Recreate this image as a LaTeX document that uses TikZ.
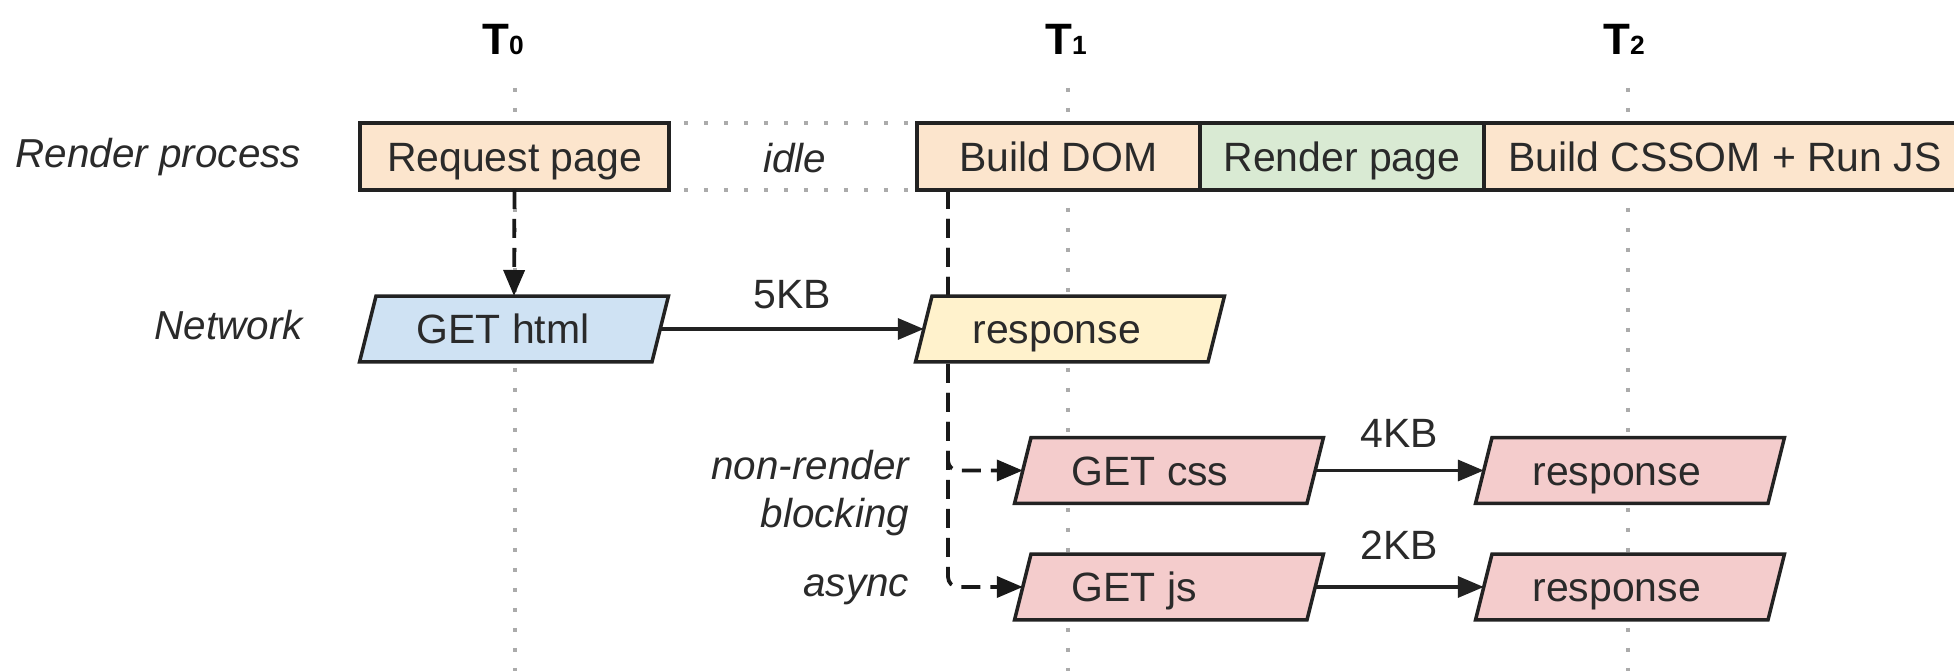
\documentclass[tikz,border=0pt]{standalone}
\usepackage{fontspec}
\setmainfont{Liberation Sans}
\usetikzlibrary{arrows.meta, backgrounds, calc}
\definecolor{peach}{HTML}{FCE5CD}
\definecolor{mint}{HTML}{D9EAD3}
\definecolor{skyb}{HTML}{CFE2F3}
\definecolor{cream}{HTML}{FFF2CC}
\definecolor{rose}{HTML}{F4CCCC}
\definecolor{ink}{HTML}{222222}
\definecolor{txt}{HTML}{2A2A2A}
\definecolor{dotgray}{HTML}{ABABAB}
\newcommand{\paral}[2]{%
  \filldraw[draw=ink, fill=#2, line width=0.07cm, line join=miter]
    ([xshift=0.33cm]#1.north west) -- (#1.north east) --
    ([xshift=-0.33cm]#1.south east) -- (#1.south west) -- cycle;}
\begin{document}
\begin{tikzpicture}[x=0.02cm, y=-0.02cm,
  every node/.style={inner sep=0pt, outer sep=0pt, text=txt, font=\fontsize{23.3}{28}\selectfont},
  stage/.style={draw=ink, line width=0.07cm, minimum height=1.34cm, text height=0.59cm, text depth=0pt},
  holder/.style={minimum height=1.32cm, minimum width=6.18cm},
  ptext/.style={anchor=west, text height=0.59cm, text depth=0pt},
  rowlabel/.style={font=\fontsize{23}{28}\selectfont\itshape, anchor=base east},
  tlabel/.style={anchor=base, text=black},
  kb/.style={text height=0.59cm, text depth=0pt},
  timeline/.style={draw=dotgray, line width=0.08cm, dash pattern=on 0.08cm off 0.32cm},
  dasharr/.style={draw=black!90, line width=0.075cm, dash pattern=on 0.38cm off 0.2cm, -{Triangle[length=0.52cm, width=0.42cm]}},
  solidarr/.style={draw=ink, line width=0.07cm, -{Triangle[length=0.52cm, width=0.42cm]}}
]
\useasboundingbox (0,0) rectangle (1954,671);

% time labels
\node[tlabel] (t0) at (503,55) {{\fontsize{25}{30}\selectfont\bfseries T\fontsize{15}{18}\selectfont 0}};
\node[tlabel] (t1) at (1066,55) {{\fontsize{25}{30}\selectfont\bfseries T\fontsize{15}{18}\selectfont 1}};
\node[tlabel] (t2) at (1624,55) {{\fontsize{25}{30}\selectfont\bfseries T\fontsize{15}{18}\selectfont 2}};
\coordinate (t0a) at (515,88);  \coordinate (t0b) at (515,675);
\coordinate (t1a) at (1068,88); \coordinate (t1b) at (1068,675);
\coordinate (t2a) at (1628,88); \coordinate (t2b) at (1628,675);

% row labels
\node[rowlabel] (lrender) at (301,168) {Render process};
\node[rowlabel] (lnet) at (303,340) {Network};
\node[rowlabel] (lnon) at (909,480) {non-render};
\node[rowlabel] (lblock) at (909,528) {blocking};
\node[rowlabel] (lasync) at (909,597) {async};

% render process row
\node[stage, fill=peach, minimum width=6.18cm] (reqpage) at (514.5,156.5) {Request page};
\node[stage, fill=peach, minimum width=5.66cm] (builddom) at (1058.5,156.5) {Build DOM};
\node[stage, fill=mint, minimum width=5.68cm] (renderpage) at (1342,156.5) {Render page};
\node[stage, fill=peach, minimum width=9.64cm] (cssom) at (1725,156.5) {Build CSSOM + Run JS};
\node[font=\fontsize{23}{28}\selectfont\itshape] (idle) at (795,158) {idle};

% network shapes (parallelograms)
\node[holder] (gethtml) at (514,329) {};
\node[holder] (resp1) at (1070,329) {};
\node[holder] (getcss) at (1169,470.5) {};
\node[holder] (getjs) at (1169,587) {};
\node[holder] (respcss) at (1630,470.5) {};
\node[holder] (respjs) at (1630,587) {};
\paral{gethtml}{skyb}
\paral{resp1}{cream}
\paral{getcss}{rose}
\paral{getjs}{rose}
\paral{respcss}{rose}
\paral{respjs}{rose}

\node[ptext] (gethtmlt) at ([xshift=1.14cm]gethtml.west) {GET html};
\node[ptext] (resp1t) at ([xshift=1.14cm]resp1.west) {response};
\node[ptext] (getcsst) at ([xshift=1.14cm]getcss.west) {GET css};
\node[ptext] (getjst) at ([xshift=1.14cm]getjs.west) {GET js};
\node[ptext] (respcsst) at ([xshift=1.14cm]respcss.west) {response};
\node[ptext] (respjst) at ([xshift=1.14cm]respjs.west) {response};

\coordinate (branch) at ([xshift=0.62cm]builddom.south west);

\begin{scope}[on background layer]
  \fill[white] (0,0) rectangle (1954,671);
  \draw[timeline] (t0a) -- (t0b);
  \draw[timeline] (t1a) -- (t1b);
  \draw[timeline] (t2a) -- (t2b);
  \draw[timeline] ([xshift=0.3cm]reqpage.north east) -- (builddom.north west);
  \draw[timeline] ([xshift=0.3cm]reqpage.south east) -- (builddom.south west);
  \draw[dasharr, rounded corners=0.2cm] (branch) |- ([xshift=0.165cm]getcss.west);
  \draw[dasharr, rounded corners=0.2cm] (branch) |- ([xshift=0.165cm]getjs.west);
\end{scope}

% connectors
\draw[dasharr] (reqpage.south) -- (gethtml.north);
\draw[solidarr] ([xshift=-0.165cm]gethtml.east) -- node[kb, yshift=0.7cm] (kb5) {5KB} ([xshift=0.165cm]resp1.west);
\draw[solidarr] ([xshift=-0.165cm]getcss.east) -- node[kb, yshift=0.75cm] (kb4) {4KB} ([xshift=0.165cm]respcss.west);
\draw[solidarr] ([xshift=-0.165cm]getjs.east) -- node[kb, yshift=0.85cm] (kb2) {2KB} ([xshift=0.165cm]respjs.west);
\end{tikzpicture}
\end{document}
